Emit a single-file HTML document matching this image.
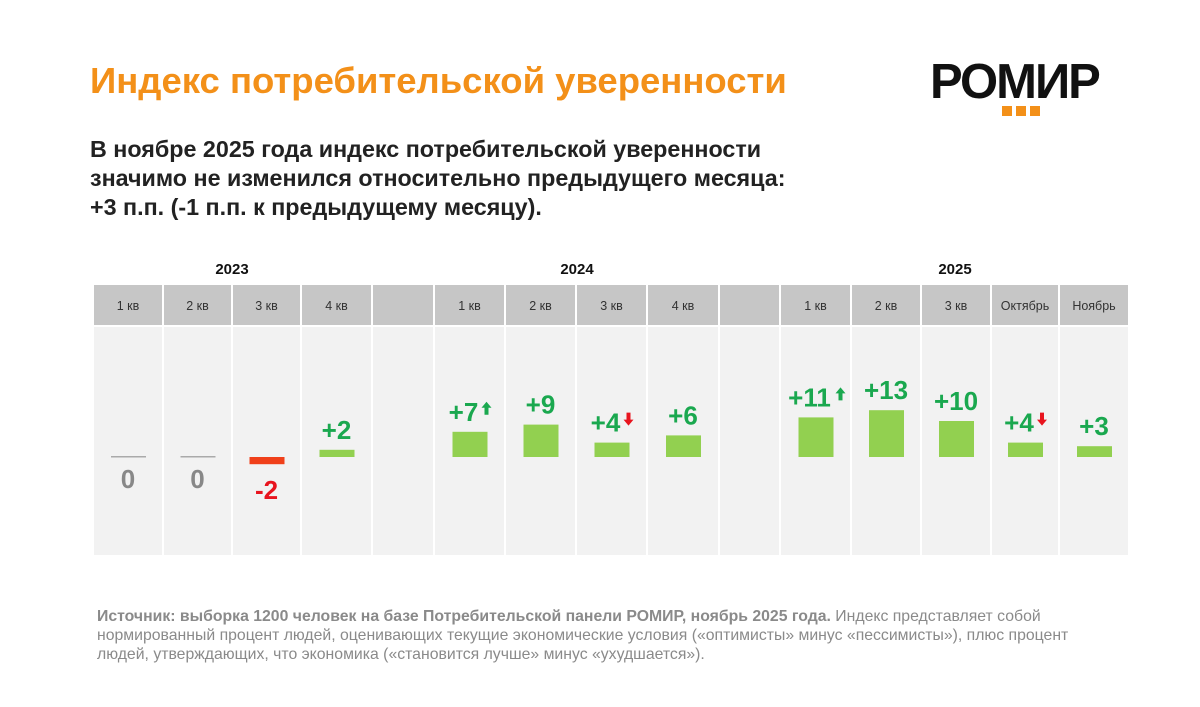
<!DOCTYPE html>
<html><head><meta charset="utf-8"><style>
body{margin:0;width:1200px;height:707px;background:#fff;font-family:"Liberation Sans",sans-serif;overflow:hidden;position:relative}
.abs{position:absolute}
</style></head><body>
<div class="abs" style="left:90px;top:60px;font-size:36.5px;font-weight:bold;color:#f39019;white-space:nowrap">Индекс потребительской уверенности</div>
<div class="abs" style="left:930px;top:56px;">
<div style="font-size:49px;font-weight:900;color:#111;letter-spacing:-2px;line-height:52px;white-space:nowrap">РОМИР</div>
<div style="position:absolute;left:72px;top:50px;width:10px;height:10px;background:#f39019"></div>
<div style="position:absolute;left:86px;top:50px;width:10px;height:10px;background:#f39019"></div>
<div style="position:absolute;left:100px;top:50px;width:10px;height:10px;background:#f39019"></div>
</div>
<div class="abs" style="left:90px;top:135px;font-size:23.3px;font-weight:bold;color:#222;line-height:29px;white-space:nowrap">В ноябре 2025 года индекс потребительской уверенности<br>значимо не изменился относительно предыдущего месяца:<br>+3 п.п. (-1 п.п. к предыдущему месяцу).</div>
<svg class="abs" style="left:0;top:0" width="1200" height="707" id="chart"></svg>
<div class="abs" style="left:97px;top:607px;font-size:15.8px;color:#8a8a8a;line-height:19px;width:1000px"><b>Источник: выборка 1200 человек на базе Потребительской панели РОМИР, ноябрь 2025 года.</b> Индекс представляет собой нормированный процент людей, оценивающих текущие экономические условия («оптимисты» минус «пессимисты»), плюс процент людей, утверждающих, что экономика («становится лучше» минус «ухудшается»).</div>
<script>
const categories=["1 кв","2 кв","3 кв","4 кв","","1 кв","2 кв","3 кв","4 кв","","1 кв","2 кв","3 кв","Октябрь","Ноябрь"];
const values=[0,0,-2,2,null,7,9,4,6,null,11,13,10,4,3];
const arrows=["","","","","","up","","down","","","up","","","down",""];
const years=["2023","2024","2025"];
const colLefts=[94,164,233,302,373,435,506,577,648,720,781,852,922,992,1060];
const colRights=[162,231,300,371,433,504,575,646,718,779,850,920,990,1058,1128];
const yearX=[232,577,955];
const svg=document.getElementById('chart');const NS='http://www.w3.org/2000/svg';
function mk(t,a){const e=document.createElementNS(NS,t);for(const k in a)e.setAttribute(k,a[k]);svg.appendChild(e);return e;}
const base=457,k=3.6;
function y(v){return base-v*k;}
years.forEach((yr,i)=>{
 const t=mk('text',{x:yearX[i],y:274,'text-anchor':'middle','font-size':15,'font-weight':'bold',fill:'#111'});t.textContent=yr;
 
 
});
categories.forEach((c,i)=>{
 const x0=colLefts[i],w=colRights[i]-x0,cx=x0+w/2;
 const h=mk('rect',{x:x0,y:285,width:w,height:40,fill:'#c6c6c6'});
 
 
 const b=mk('rect',{x:x0,y:327,width:w,height:228,fill:'#f2f2f2'});
 
 
 if(c){const t=mk('text',{x:cx,y:310,'text-anchor':'middle','font-size':12.5,fill:'#333'});t.textContent=c;
 
 }
 const v=values[i];if(v===null)return;
 const bw=35;
 if(v===0){
  const l=mk('rect',{x:cx-17,y:base-1,width:bw,height:1.5,fill:'#aaa'});
  
  
  const t=mk('text',{x:cx,y:488,'text-anchor':'middle','font-size':26,'font-weight':'bold',fill:'#888'});t.textContent='0';
  
  
 }else if(v<0){
  const r=mk('rect',{x:cx-17,y:base,width:bw,height:y(v)-base,fill:'#f0401a'});
  
  
  const t=mk('text',{x:cx,y:y(v)+35,'text-anchor':'middle','font-size':26,'font-weight':'bold',fill:'#e8141e'});t.textContent=String(v);
  
  
 }else{
  const r=mk('rect',{x:cx-17,y:y(v),width:bw,height:base-y(v),fill:'#92d050'});
  
  
  const off=arrows[i]?-6:0;
  const t=mk('text',{x:cx+off,y:y(v)-11,'text-anchor':'middle','font-size':26,'font-weight':'bold',fill:'#1aa84f'});t.textContent='+'+v;
  
  
  if(arrows[i]){
   const ax=cx+off+(v>=10?31:23),ay=y(v)-30;
   const p=arrows[i]=='up'?`M${ax-5},${ay+6}L${ax},${ay}L${ax+5},${ay+6}L${ax+2},${ay+6}L${ax+2},${ay+13}L${ax-2},${ay+13}L${ax-2},${ay+6}Z`:`M${ax-2},${ay}L${ax+2},${ay}L${ax+2},${ay+7}L${ax+5},${ay+7}L${ax},${ay+13}L${ax-5},${ay+7}L${ax-2},${ay+7}Z`;
   const a=mk('path',{d:p,fill:arrows[i]=='up'?'#1aa84f':'#e8141e'});
   
   
  }
 }
});
</script>
</body></html>
